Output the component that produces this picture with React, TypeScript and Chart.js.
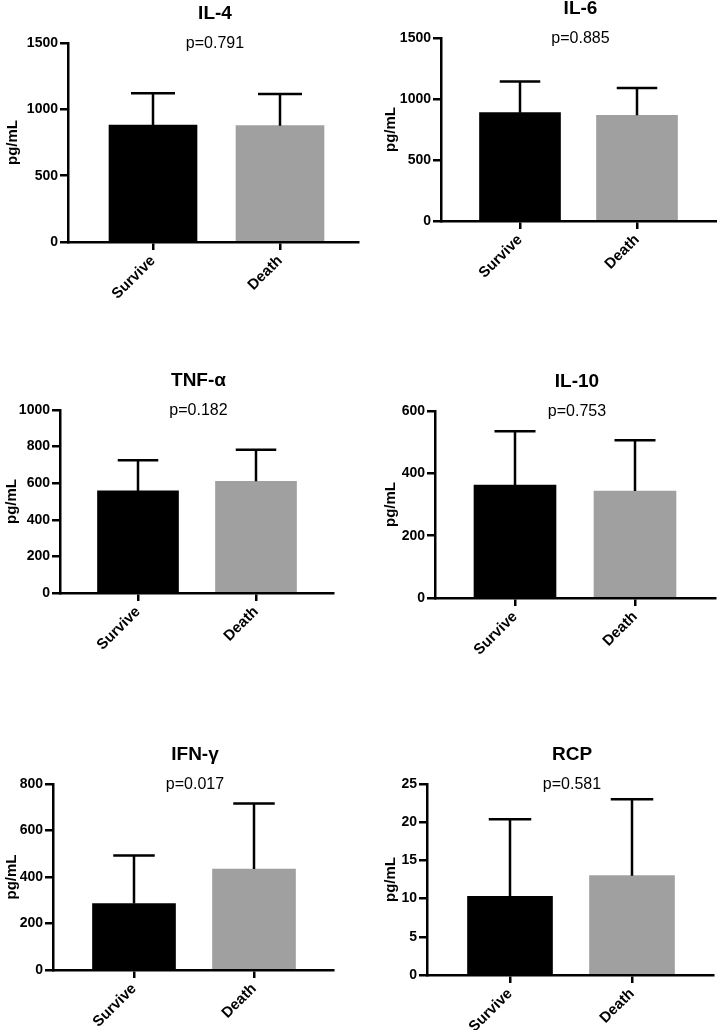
import React, { useEffect, useRef } from 'react';
import { Chart, registerables } from 'chart.js';

Chart.register(...registerables);

// ---------- data ----------
const categories = ['Survive', 'Death'];
const panelTitles = ['IL-4', 'IL-6', 'TNF-α', 'IL-10', 'IFN-γ', 'RCP'];
const pValueLabels = ['p=0.791', 'p=0.885', 'p=0.182', 'p=0.753', 'p=0.017', 'p=0.581'];
const surviveMeans = [882, 888, 558, 362, 286, 10.3];
const deathMeans = [877, 867, 610, 343, 434, 13.0];
const surviveSD = [239, 255, 167, 173, 206, 10.1];
const deathSD = [239, 224, 173, 163, 282, 10.0];
const yMaxes = [1500, 1500, 1000, 600, 800, 25];
const ySteps = [500, 500, 200, 200, 200, 5];
const yAxisTitle = 'pg/mL';
const barColors = ['#000000', '#a0a0a0'];

// ---------- layout (pixel geometry of each panel) ----------
const layouts = [
  { axisX: 68, right: 358, top: 43, bottom: 242, t0: 153, t1: 280, barW: 88, yTitleX: 13 },
  { axisX: 441, right: 716, top: 38, bottom: 221, t0: 520, t1: 637, barW: 81, yTitleX: 391 },
  { axisX: 60, right: 333, top: 410, bottom: 593, t0: 138, t1: 256, barW: 81, yTitleX: 12 },
  { axisX: 435, right: 715, top: 411, bottom: 598, t0: 515, t1: 635, barW: 82, yTitleX: 391 },
  { axisX: 53, right: 333, top: 784, bottom: 970, t0: 134, t1: 254, barW: 83, yTitleX: 12 },
  { axisX: 427, right: 713, top: 784, bottom: 975, t0: 510, t1: 632, barW: 85, yTitleX: 391 },
];

const FONT = "'Liberation Sans', Arial, Helvetica, sans-serif";
Chart.defaults.font.family = FONT;
Chart.defaults.color = '#000';

function Panel({ idx }: { idx: number }) {
  const ref = useRef<HTMLCanvasElement>(null);
  const L = layouts[idx];
  const canvasLeft = Math.max(0, L.yTitleX - 9);
  const canvasTop = L.top - 50;
  const canvasRight = Math.min(717, L.right + 4);
  const canvasBottom = L.bottom + 60;
  const w = canvasRight - canvasLeft;
  const h = canvasBottom - canvasTop;

  useEffect(() => {
    const means = [surviveMeans[idx], deathMeans[idx]];
    const sds = [surviveSD[idx], deathSD[idx]];
    const unit = L.t1 - L.t0;
    const xMin = -(L.t0 - L.axisX) / unit;
    const xMax = 1 + (L.right - L.t1) / unit;

    const overlay = {
      id: 'overlay' + idx,
      afterDatasetsDraw(chart: any) {
        const ctx = chart.ctx;
        const xs = chart.scales.x;
        const ys = chart.scales.y;
        ctx.save();
        ctx.strokeStyle = '#000';
        ctx.lineWidth = 2.5;
        const cap = L.barW * 0.25;
        means.forEach((m, i) => {
          const x = xs.getPixelForValue(i);
          const yb = ys.getPixelForValue(m);
          const yt = ys.getPixelForValue(m + sds[i]);
          ctx.beginPath();
          ctx.moveTo(x, yb);
          ctx.lineTo(x, yt);
          ctx.moveTo(x - cap, yt);
          ctx.lineTo(x + cap, yt);
          ctx.stroke();
        });
        const ca = chart.chartArea;
        const cx = (ca.left + ca.right) / 2;
        ctx.fillStyle = '#000';
        ctx.textAlign = 'center';
        ctx.textBaseline = 'middle';
        ctx.font = `bold 19px ${FONT}`;
        ctx.fillText(panelTitles[idx], cx + 2, ca.top - 29);
        ctx.font = `16px ${FONT}`;
        ctx.fillText(pValueLabels[idx], cx + 2, ca.top + 1);
        ctx.restore();
      },
    };

    const chart = new Chart(ref.current!, {
      type: 'bar',
      data: {
        datasets: [
          {
            data: categories.map((_, i) => ({ x: i, y: means[i] })),
            backgroundColor: barColors,
            borderWidth: 0,
            barThickness: L.barW,
          },
        ],
      },
      options: {
        responsive: false,
        animation: false,
        devicePixelRatio: 1,
        layout: { padding: { top: 50, right: canvasRight - L.right, left: 0, bottom: 0 } },
        plugins: { legend: { display: false }, tooltip: { enabled: false }, title: { display: false } },
        scales: {
          x: {
            type: 'linear',
            min: xMin,
            max: xMax,
            offset: false,
            z: 1,
            grid: {
              offset: false,
              drawOnChartArea: false,
              drawTicks: true,
              tickLength: 8,
              color: '#000',
              lineWidth: 2.5,
            },
            border: { display: true, color: '#000', width: 2.5 },
            ticks: {
              autoSkip: false,
              minRotation: 45,
              maxRotation: 45,
              padding: 2,
              color: '#000',
              font: { size: 15, weight: 'bold' },
              callback: (v: any) => categories[v] ?? '',
            },
            afterBuildTicks: (s: any) => {
              s.ticks = categories.map((_, i) => ({ value: i }));
            },
            afterFit: (s: any) => {
              s.height = canvasBottom - L.bottom;
            },
          },
          y: {
            min: 0,
            max: yMaxes[idx],
            z: 1,
            grid: {
              drawOnChartArea: false,
              drawTicks: true,
              tickLength: 8,
              color: '#000',
              lineWidth: 2.5,
            },
            border: { display: true, color: '#000', width: 2.5 },
            ticks: {
              stepSize: ySteps[idx],
              padding: 2,
              color: '#000',
              font: { size: 14, weight: 'bold' },
              callback: (v: any) => String(v),
            },
            title: {
              display: true,
              text: yAxisTitle,
              color: '#000',
              padding: 0,
              font: { size: 15, weight: 'bold' },
            },
            afterFit: (s: any) => {
              s.width = L.axisX - canvasLeft;
            },
          },
        },
      } as any,
      plugins: [overlay],
    });
    return () => chart.destroy();
  }, []);

  return (
    <canvas
      ref={ref}
      width={w}
      height={h}
      style={{ position: 'absolute', left: canvasLeft, top: canvasTop, width: w, height: h }}
    />
  );
}

export default function App() {
  return (
    <div
      style={{
        position: 'absolute',
        left: 0,
        top: 0,
        width: 717,
        height: 1030,
        overflow: 'hidden',
        background: '#fff',
      }}
    >
      {layouts.map((_, i) => (
        <Panel key={i} idx={i} />
      ))}
    </div>
  );
}
